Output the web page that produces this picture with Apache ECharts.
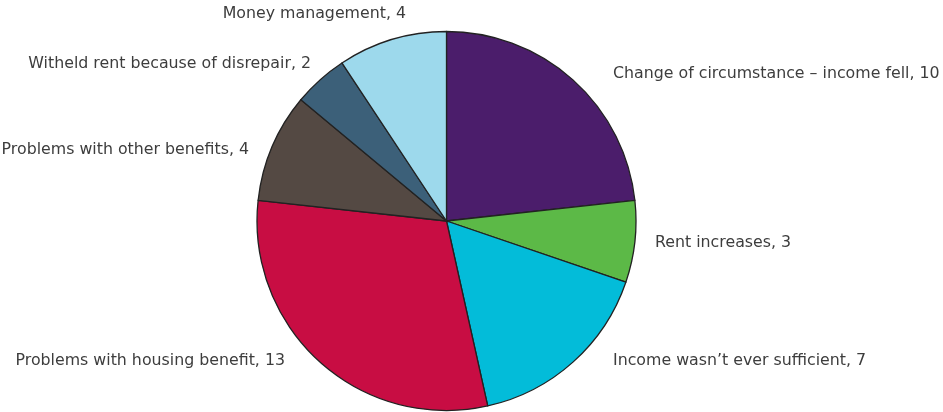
<!DOCTYPE html>
<html>
<head>
<meta charset="utf-8">
<script src="https://cdn.jsdelivr.net/npm/echarts@6/dist/echarts.min.js"></script>
<style>
  html, body { margin: 0; padding: 0; background: #fff; }
  #chart { width: 943px; height: 412px; }
</style>
</head>
<body>
<div id="chart"></div>
<script>
const categories = [
  'Change of circumstance \u2013 income fell',
  'Rent increases',
  'Income wasn\u2019t ever sufficient',
  'Problems with housing benefit',
  'Problems with other benefits',
  'Witheld rent because of disrepair',
  'Money management'
];
const values = [10, 3, 7, 13, 4, 2, 4];
const colors = ['#4b1d6b', '#5cb947', '#03bcd9', '#c80d43', '#544943', '#3c6079', '#9dd9ec'];

// label anchor points (x, y, align) matching the original layout
const labelPos = [
  [613, 74, 'left'],
  [655, 243, 'left'],
  [613, 361, 'left'],
  [285, 361, 'right'],
  [249, 150, 'right'],
  [311, 64, 'right'],
  [406, 14, 'right']
];

const chart = echarts.init(document.getElementById('chart'));

chart.setOption({
  backgroundColor: '#fff',
  animation: false,
  series: [{
    type: 'pie',
    center: [446.5, 221],
    radius: 189.5,
    startAngle: 90,
    clockwise: true,
    itemStyle: {
      borderColor: '#222',
      borderWidth: 1.3
    },
    label: {
      show: true,
      position: 'outside',
      formatter: '{b}, {c}',
      color: '#3d3d3d',
      fontFamily: 'DejaVu Sans',
      fontSize: 15.8,
      overflow: 'none'
    },
    labelLine: { show: false },
    labelLayout: function (params) {
      const p = labelPos[params.dataIndex];
      return { x: p[0], y: p[1], align: p[2], verticalAlign: 'middle' };
    },
    emphasis: { disabled: true },
    data: categories.map((name, i) => ({
      name: name,
      value: values[i],
      itemStyle: { color: colors[i] }
    }))
  }]
});
</script>
</body>
</html>
